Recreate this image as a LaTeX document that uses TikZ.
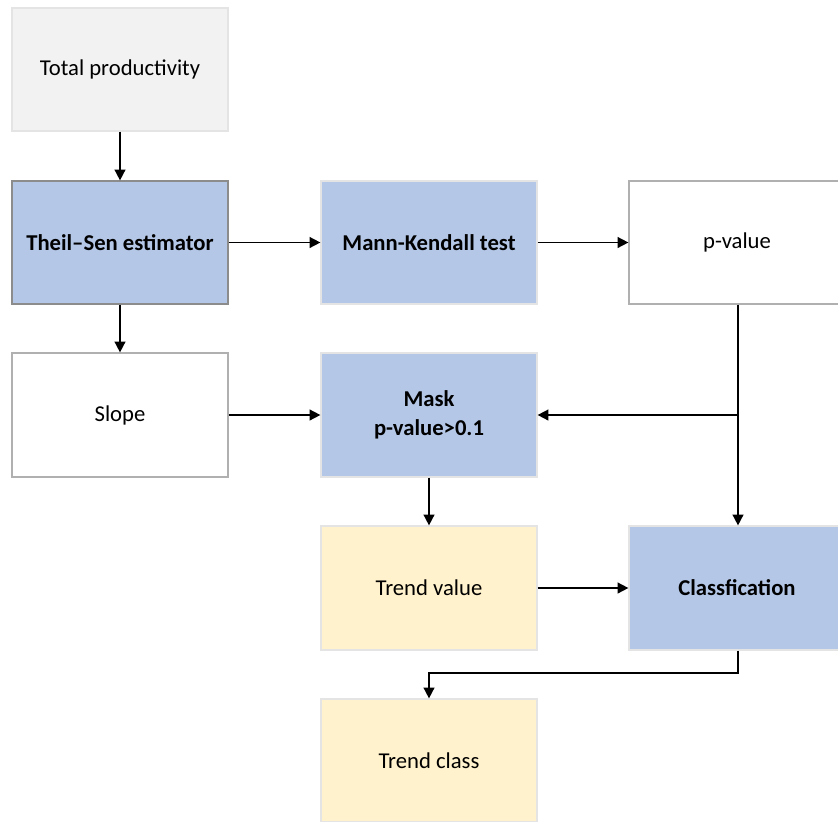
\documentclass[tikz,border=0pt]{standalone}
\usepackage{fontspec}
\setmainfont{Carlito}
\usetikzlibrary{arrows.meta}
\definecolor{bluefill}{HTML}{B4C7E7}
\definecolor{greyfill}{HTML}{F2F2F2}
\definecolor{yellowfill}{HTML}{FFF2CC}
\definecolor{darkedge}{HTML}{8C8C8C}
\definecolor{midedge}{HTML}{B0B0B0}
\definecolor{lightedge}{HTML}{E4E4E4}
\begin{document}
\begin{tikzpicture}[x=0.75pt,y=-0.75pt,
  box/.style={rectangle,inner sep=0pt,font=\fontsize{17}{21.5}\selectfont,align=center,line width=0.9pt},
  bluebox/.style={box,fill=bluefill,font=\fontsize{17}{21.5}\selectfont\bfseries},
  conn/.style={line width=1.2pt,-{Triangle[length=8pt,width=8pt]}},
  plain/.style={line width=1.2pt}]
\useasboundingbox (0,0) rectangle (838,821);
\node[box,fill=greyfill,draw=lightedge,minimum width=216*0.75pt,minimum height=123*0.75pt] (tp) at (120,69.5) {Total productivity};
\node[bluebox,draw=darkedge,minimum width=216*0.75pt,minimum height=123*0.75pt] (ts) at (120,242.5) {Theil--Sen estimator};
\node[bluebox,draw=lightedge,minimum width=216*0.75pt,minimum height=123*0.75pt] (mk) at (429,242.5) {Mann-Kendall test};
\node[box,draw=midedge,minimum width=216*0.75pt,minimum height=123*0.75pt] (pv) at (737,242.5) {p-value};
\node[box,draw=midedge,minimum width=216*0.75pt,minimum height=124*0.75pt] (sl) at (120,415) {Slope};
\node[bluebox,draw=lightedge,minimum width=216*0.75pt,minimum height=124*0.75pt] (mask) at (429,415) {Mask\\p-value>0.1};
\node[box,fill=yellowfill,draw=lightedge,minimum width=216*0.75pt,minimum height=124*0.75pt] (tv) at (429,588) {Trend value};
\node[bluebox,draw=lightedge,minimum width=216*0.75pt,minimum height=124*0.75pt] (cl) at (737,588) {Classfication};
\node[box,fill=yellowfill,draw=lightedge,minimum width=216*0.75pt,minimum height=123*0.75pt] (tc) at (429,760.5) {Trend class};
\coordinate (j1) at (738,415);
\coordinate (j2) at (738,673);
\coordinate (j3) at (429,673);
\draw[conn] (tp) -- (ts);
\draw[conn] (ts) -- (mk);
\draw[conn] (mk) -- (pv);
\draw[conn] (ts) -- (sl);
\draw[conn] (sl) -- (mask);
\draw[plain] (pv.south -| j1) -- (j1);
\draw[conn] (j1) -- (mask.east);
\draw[conn] (j1) -- (cl.north -| j1);
\draw[conn] (mask) -- (tv);
\draw[conn] (tv) -- (cl);
\draw[conn] (cl.south -| j2) -- (j2) -- (j3) -- (tc.north);
\end{tikzpicture}
\end{document}
